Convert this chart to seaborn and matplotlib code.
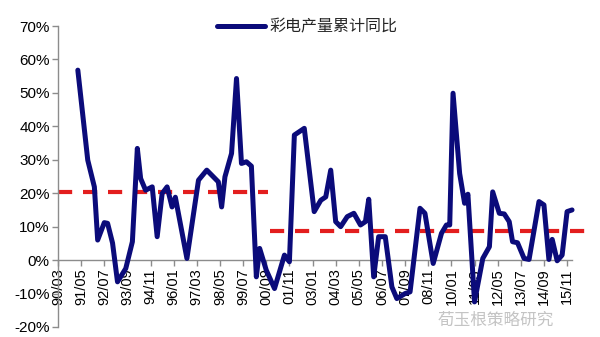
import matplotlib
matplotlib.use("Agg")
import matplotlib.pyplot as plt
import seaborn as sns
import pandas as pd
import numpy as np

# ---- data ----
dates = ["91/03", "91/09", "92/01", "92/03", "92/07", "92/09", "92/12", "93/03", "93/08", "93/12",
         "94/03", "94/05", "94/08", "94/12", "95/03", "95/06", "95/09", "95/12", "96/02", "96/09",
         "97/04", "97/09", "98/04", "98/06", "98/08", "98/12", "99/03", "99/06", "99/09", "99/12",
         "00/03", "00/05", "00/09", "01/02", "01/08", "01/11", "02/02", "02/08", "03/02", "03/06",
         "03/09", "03/12", "04/03", "04/06", "04/10", "05/02", "05/06", "05/09", "05/11", "06/02",
         "06/05", "06/09", "07/01", "07/04", "07/09", "07/12", "08/06", "08/09", "09/02", "09/07",
         "09/10", "09/12", "10/02", "10/06", "10/09", "10/11", "11/03", "11/08", "11/12", "12/02",
         "12/06", "12/09", "12/12", "13/02", "13/05", "13/09", "13/12", "14/06", "14/09", "14/12",
         "15/02", "15/05", "15/08", "15/11", "16/02"]
values = [56.8, 29.9, 21.9, 6.0, 11.2, 11.0, 5.1, -6.5, -2.5, 5.5,
          33.4, 24.4, 20.9, 21.9, 7.0, 19.9, 21.9, 15.9, 18.8, 0.5,
          23.9, 26.9, 23.4, 15.9, 24.9, 31.9, 54.3, 28.9, 29.4, 28.1,
          -5.0, 3.5, -3.0, -8.5, 1.5, -0.5, 37.4, 39.4, 14.5, 17.9,
          18.9, 26.9, 11.5, 10.0, 13.0, 14.0, 10.5, 11.5, 18.2, -5.0,
          7.0, 7.0, -8.0, -11.5, -10.0, -9.5, 15.5, 14.0, -1.0, 8.0,
          10.5, 10.5, 49.9, 25.9, 17.0, 19.7, -12.5, 0.5, 4.0, 20.4,
          14.0, 13.8, 11.5, 5.5, 5.2, 0.5, 0.2, 17.5, 16.5, 0.2,
          6.2, -0.2, 1.5, 14.5, 15.0]
tick_labels = ["90/03", "91/05", "92/07", "93/09", "94/11", "96/01", "97/03", "98/05", "99/07",
               "00/09", "01/11", "03/01", "04/03", "05/05", "06/07", "07/09", "08/11", "10/01",
               "11/03", "12/05", "13/07", "14/09", "15/11"]
avg_periods = [("90/03", "00/10"), ("00/11", "16/10")]
avg_values = [20.4, 8.7]
series_name = "彩电产量累计同比"
watermark = "荀玉根策略研究"


def month_index(s):
    yy, mm = s.split("/")
    yy = int(yy)
    year = 1900 + yy if yy >= 50 else 2000 + yy
    return (year - 1990) * 12 + (int(mm) - 3)


df = pd.DataFrame({"m": [month_index(d) for d in dates], "v": values})

sns.set_theme(style="white")
plt.rcParams["font.family"] = ["Liberation Sans", "Noto Sans CJK SC", "DejaVu Sans"]

fig = plt.figure(figsize=(6.0, 3.37), dpi=100)
left_px, right_px = 58, 595
top_px, bot_px = 26, 327
ax = fig.add_axes([left_px / 600, 1 - bot_px / 337, (right_px - left_px) / 600, (bot_px - top_px) / 337])

navy = "#0b0b7a"
red = "#e31e1e"

for (a, b), val in zip(avg_periods, avg_values):
    ax.plot([month_index(a), month_index(b)], [val, val], color=red, lw=3.0,
            dashes=(3.4, 2.6), zorder=2, solid_capstyle="butt", dash_capstyle="butt")

sns.lineplot(data=df, x="m", y="v", ax=ax, color=navy, lw=3.6, zorder=3,
             label=series_name, legend=False)

last_m = df["m"].max()
ax.set_xlim(0, (right_px - left_px) / (23.14 / 14))
ax.set_ylim(-20, 70)

ax.spines["top"].set_visible(False)
ax.spines["right"].set_visible(False)
ax.spines["bottom"].set_position(("data", 0))
ax.spines["bottom"].set_bounds(0, last_m)
for s in ["left", "bottom"]:
    ax.spines[s].set_color("#8c8c8c")
    ax.spines[s].set_linewidth(1.0)

xt = [month_index(t) for t in tick_labels]
ax.set_xticks(xt)
ax.set_xticklabels(tick_labels, rotation=90, fontsize=10.5, color="black")
yt = list(range(-20, 71, 10))
ax.set_yticks(yt)
ax.set_yticklabels([f"{v}%" for v in yt], fontsize=11, color="black")
ax.tick_params(axis="both", which="major", direction="out", length=4, width=1.0,
               color="#8c8c8c", pad=2, left=True, bottom=True)
ax.set_xlabel("")
ax.set_ylabel("")
ax.grid(False)

handle = plt.Line2D([], [], color=navy, lw=3.6, solid_capstyle="round")
fig.legend([handle], [series_name], loc="center left", bbox_to_anchor=(217 / 600, 1 - 27 / 337),
           frameon=False, borderpad=0, borderaxespad=0, handlelength=3.0, handletextpad=0.3,
           prop={"family": ["Noto Sans CJK SC"], "size": 11.5})

fig.text(438 / 600, 1 - 320 / 337, watermark, fontsize=12, color="#b0b0b0", alpha=0.75,
         family=["Noto Sans CJK SC"], va="center", ha="left", zorder=10)

fig.savefig("out.png", dpi=100)
